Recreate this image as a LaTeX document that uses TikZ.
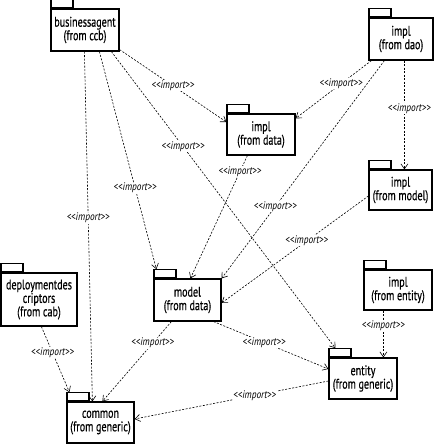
\documentclass[tikz,border=0pt]{standalone}
\usepackage{fontspec}
\setmainfont{PT Sans}[FakeStretch=0.72]
\newfontfamily\pkgfont{PT Sans}[FakeStretch=0.72,FakeBold=0.5]
\newfontfamily\lblfont{PT Sans}[FakeStretch=0.85]
\usetikzlibrary{arrows.meta,calc}
\newcommand{\imptext}{{<}{<}import{>}{>}}
\begin{document}
\begin{tikzpicture}[x=1pt,y=-1pt,
  pkg/.style={draw,line width=1.2pt,fill=white,align=center,inner sep=0pt,font=\pkgfont\fontsize{14}{13.5}\selectfont},
  pktab/.style={draw,line width=1.2pt,minimum width=22pt,minimum height=8pt,inner sep=0pt,anchor=south west},
  imp/.style={draw,line width=0.6pt,dash pattern=on 2pt off 1.5pt,-{Straight Barb[length=5pt,width=7pt]}},
  lbl/.style={fill=white,inner sep=0.5pt,font=\lblfont\fontsize{11}{11}\selectfont\itshape}]
\useasboundingbox (0,0) rectangle (439,444);
% packages
\node[pkg,minimum width=68pt,minimum height=42pt] (ba) at (85,30) {businessagent\\(from ccb)};
\node[pktab] (baT) at (ba.north west) {};
\node[pkg,minimum width=64pt,minimum height=42pt] (dao) at (401,39) {impl\\(from dao)};
\node[pktab] (daoT) at (dao.north west) {};
\node[pkg,minimum width=68pt,minimum height=41pt] (data) at (261,134.5) {impl\\(from data)};
\node[pktab] (dataT) at (data.north west) {};
\node[pkg,minimum width=63pt,minimum height=40pt] (im) at (400.5,190) {impl\\(from model)};
\node[pktab] (imT) at (im.north west) {};
\node[pkg,minimum width=68pt,minimum height=40pt] (ie) at (398,290) {impl\\(from entity)};
\node[pktab] (ieT) at (ie.north west) {};
\node[pkg,minimum width=67pt,minimum height=42pt] (model) at (187.5,300) {model\\(from data)};
\node[pktab] (modelT) at (model.north west) {};
\node[pkg,minimum width=76pt,minimum height=53pt] (dep) at (39,299.5) {deploymentdes\\criptors\\(from cab)};
\node[pktab] (depT) at (dep.north west) {};
\node[pkg,minimum width=67pt,minimum height=41pt] (common) at (100.5,422.5) {common\\(from generic)};
\node[pktab] (commonT) at (common.north west) {};
\node[pkg,minimum width=68pt,minimum height=41pt] (entity) at (363,378.5) {entity\\(from generic)};
\node[pktab] (entityT) at (entity.north west) {};
% dependencies
\draw[imp] ($(ba.south west)+(34,0)$) -- node[lbl,pos=0.476] {\imptext} ($(common.north west)+(26,0)$);
\draw[imp] ($(ba.south west)+(49,0)$) -- node[lbl,pos=0.627] {\imptext} ($(modelT.north west)+(3,0)$);
\draw[imp] ($(ba.south west)+(61,0)$) -- node[lbl,pos=0.32] {\imptext} ($(entityT.north west)+(7,0)$);
\draw[imp] ($(ba.south east)+(0,-2)$) -- node[lbl,pos=0.5] {\imptext} ($(data.west)+(0,-12.5)$);
\draw[imp] ($(dao.south west)+(3,0)$) -- node[lbl,pos=0.4] {\imptext} ($(data.north east)+(0,5)$);
\draw[imp] ($(dao.south west)+(16,0)$) -- node[lbl,pos=0.67] {\imptext} (model.north east);
\draw[imp] ($(dao.south west)+(36,0)$) -- node[lbl,pos=0.44,xshift=5pt] {\imptext} ($(im.north west)+(36,0)$);
\draw[imp] ($(data.south west)+(21,0)$) -- node[lbl,pos=0.13] {\imptext} ($(model.north west)+(37,0)$);
\draw[imp] ($(im.west)+(0,6)$) -- node[lbl,pos=0.42] {\imptext} ($(model.east)+(0,3)$);
\draw[imp] ($(model.south west)+(18,0)$) -- node[lbl,pos=0.27] {\imptext} ($(common.north west)+(36,0)$);
\draw[imp] ($(model.south east)+(-8,0)$) -- node[lbl,pos=0.44] {\imptext} ($(entity.west)+(0,-9.5)$);
\draw[imp] ($(entity.west)+(0,2.5)$) -- node[lbl,pos=0.38] {\imptext} ($(common.east)+(0,-3.5)$);
\draw[imp] ($(ie.south west)+(20,0)$) -- node[lbl,pos=0.33] {\imptext} ($(entity.north west)+(55,0)$);
\draw[imp] ($(dep.south west)+(41,0)$) -- node[lbl,pos=0.4] {\imptext} ($(commonT.north west)+(3,0)$);
\end{tikzpicture}
\end{document}
